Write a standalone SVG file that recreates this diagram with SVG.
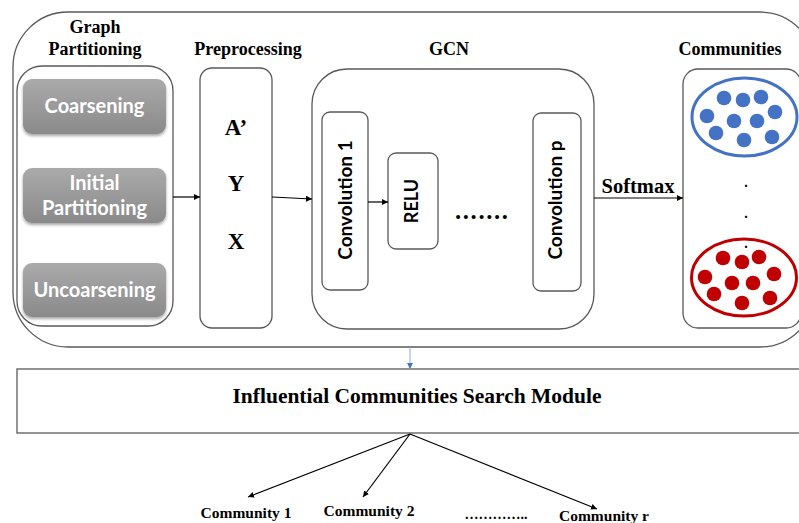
<svg xmlns="http://www.w3.org/2000/svg" width="799" height="523" viewBox="0 0 799 523">
<style>
.frame{fill:#fff;stroke:#595959;stroke-width:1.3}
.gray{fill:url(#g);filter:url(#sh)}
.gt{font-family:Lato,"Open Sans",sans-serif;font-weight:bold;font-size:20px;fill:#fff;text-anchor:middle}
.ct{font-family:Lato,"Open Sans",sans-serif;font-weight:bold;fill:#000;text-anchor:middle}
.tt{font-family:"Liberation Serif","Times New Roman",serif;font-weight:bold;font-size:18px;fill:#000;text-anchor:middle}
.big{font-family:"Liberation Serif","Times New Roman",serif;font-weight:bold;font-size:23px;fill:#000;text-anchor:middle}
.lab{font-family:"Liberation Serif","Times New Roman",serif;font-weight:bold;font-size:15.5px;fill:#000;text-anchor:middle}
.ar{fill:none;stroke:#000;stroke-width:1.2;marker-end:url(#ah)}
.bd{fill:#4472c4}
.rd{fill:#c00000}
</style>
<defs>
<linearGradient id="g" x1="0" y1="0" x2="0" y2="1">
<stop offset="0" stop-color="#aaaaaa"/>
<stop offset="0.5" stop-color="#9a9a9a"/>
<stop offset="1" stop-color="#8a8a8a"/>
</linearGradient>
<filter id="sh" x="-10%" y="-10%" width="120%" height="130%">
<feDropShadow dx="0" dy="2" stdDeviation="1.5" flood-color="#000" flood-opacity="0.35"/>
</filter>
<marker id="ah" viewBox="0 0 10 10" refX="10" refY="5" markerWidth="6" markerHeight="6" markerUnits="userSpaceOnUse" orient="auto">
<path d="M0,0 L10,5 L0,10 z" fill="#000"/>
</marker>
<marker id="ahb" viewBox="0 0 10 10" refX="10" refY="5" markerWidth="6" markerHeight="6" markerUnits="userSpaceOnUse" orient="auto">
<path d="M0,0 L10,5 L0,10 z" fill="#4472c4"/>
</marker>
</defs>
<rect width="799" height="523" fill="#fff"/>

<g id="outer">
<rect class="frame" x="13" y="12" width="802" height="335" rx="55" ry="55"/>
</g>

<g id="graph-partitioning">
<text class="tt" x="95" y="33">Graph</text>
<text class="tt" x="95" y="55">Partitioning</text>
<rect class="frame" x="17" y="66" width="156" height="260" rx="25" ry="25"/>
<g id="coarsening">
<rect class="gray" x="23" y="79" width="143" height="55" rx="9" ry="9"/>
<text class="gt" x="94.5" y="113">Coarsening</text>
</g>
<g id="initial-partitioning">
<rect class="gray" x="23" y="168" width="143" height="55" rx="9" ry="9"/>
<text class="gt" x="94.5" y="190">Initial</text>
<text class="gt" x="94.5" y="215">Partitioning</text>
</g>
<g id="uncoarsening">
<rect class="gray" x="23" y="263" width="143" height="54" rx="9" ry="9"/>
<text class="gt" x="94.5" y="297">Uncoarsening</text>
</g>
</g>

<g id="preprocessing">
<text class="tt" x="248" y="55">Preprocessing</text>
<rect class="frame" x="200" y="68" width="72" height="260" rx="12" ry="12"/>
<text class="big" x="236" y="135">A’</text>
<text class="big" x="236" y="191">Y</text>
<text class="big" x="236" y="249">X</text>
</g>

<g id="gcn">
<text class="tt" x="449" y="55">GCN</text>
<rect class="frame" x="312" y="69" width="282" height="260" rx="35" ry="35"/>
<g id="conv1">
<rect class="frame" x="322" y="112" width="46" height="178" rx="8" ry="8"/>
<text class="ct" font-size="19" transform="translate(352,200) rotate(-90)">Convolution 1</text>
</g>
<g id="relu">
<rect class="frame" x="388" y="153" width="50" height="96" rx="8" ry="8"/>
<text class="ct" font-size="18" transform="translate(418,201) rotate(-90)">RELU</text>
</g>
<text x="455" y="219" font-family="Lato,'Open Sans',sans-serif" font-weight="bold" font-size="26" textLength="53" lengthAdjust="spacing">.......</text>
<g id="convp">
<rect class="frame" x="533" y="113" width="48" height="178" rx="8" ry="8"/>
<text class="ct" font-size="19" transform="translate(562,200) rotate(-90)">Convolution p</text>
</g>
</g>

<g id="communities">
<text class="tt" x="730" y="55">Communities</text>
<rect class="frame" x="683" y="69" width="118" height="259" rx="15" ry="15"/>
<ellipse cx="744.5" cy="117" rx="52.5" ry="39" fill="none" stroke="#4472c4" stroke-width="3"/>
<circle class="bd" cx="724" cy="98" r="7.3"/>
<circle class="bd" cx="743" cy="100" r="7.3"/>
<circle class="bd" cx="761" cy="97" r="7.3"/>
<circle class="bd" cx="707" cy="116" r="7.3"/>
<circle class="bd" cx="734" cy="121" r="7.3"/>
<circle class="bd" cx="757" cy="121" r="7.3"/>
<circle class="bd" cx="775" cy="112" r="7.3"/>
<circle class="bd" cx="716" cy="133" r="7.3"/>
<circle class="bd" cx="744" cy="140" r="7.3"/>
<circle class="bd" cx="772" cy="137" r="7.3"/>
<text x="746" y="187" font-family="'Liberation Serif',serif" font-weight="bold" font-size="14" text-anchor="middle">.</text>
<text x="746" y="218" font-family="'Liberation Serif',serif" font-weight="bold" font-size="14" text-anchor="middle">.</text>
<text x="746" y="248" font-family="'Liberation Serif',serif" font-weight="bold" font-size="14" text-anchor="middle">.</text>
<ellipse cx="744" cy="277.5" rx="52.5" ry="38.5" fill="none" stroke="#c00000" stroke-width="3"/>
<circle class="rd" cx="723" cy="258" r="7.3"/>
<circle class="rd" cx="742" cy="262" r="7.3"/>
<circle class="rd" cx="759" cy="257" r="7.3"/>
<circle class="rd" cx="705" cy="277" r="7.3"/>
<circle class="rd" cx="732" cy="283" r="7.3"/>
<circle class="rd" cx="753" cy="283" r="7.3"/>
<circle class="rd" cx="774" cy="274" r="7.3"/>
<circle class="rd" cx="714" cy="294" r="7.3"/>
<circle class="rd" cx="742" cy="303" r="7.3"/>
<circle class="rd" cx="770" cy="298" r="7.3"/>
</g>

<g id="search-module">
<rect class="frame" x="17" y="369" width="790" height="64"/>
<text x="417" y="403" font-family="'Liberation Serif',serif" font-weight="bold" font-size="21" text-anchor="middle" textLength="369" lengthAdjust="spacingAndGlyphs">Influential Communities Search Module</text>
</g>

<g id="community-1"><text class="lab" x="246" y="518">Community 1</text></g>
<g id="community-2"><text class="lab" x="369" y="516">Community 2</text></g>
<g id="ellipsis"><text x="496" y="519" font-family="'Liberation Serif',serif" font-weight="bold" font-size="14" text-anchor="middle">…………..</text></g>
<g id="community-r"><text class="lab" x="604" y="521">Community r</text></g>

<g id="connectors">
<line class="ar" x1="173" y1="197" x2="200" y2="197"/>
<line class="ar" x1="272" y1="197" x2="312" y2="199"/>
<line class="ar" x1="368" y1="202" x2="388" y2="202"/>
<line class="ar" x1="594" y1="198" x2="683" y2="198"/>
<text x="638" y="193" font-family="'Liberation Serif',serif" font-weight="bold" font-size="20.5" text-anchor="middle">Softmax</text>
<line x1="410" y1="347" x2="410" y2="369" stroke="#8eaadb" stroke-width="1" marker-end="url(#ahb)"/>
<line class="ar" x1="410" y1="434" x2="248" y2="497" stroke="#333"/>
<line class="ar" x1="410" y1="434" x2="363" y2="497" stroke="#666" stroke-width="0.9"/>
<line class="ar" x1="410" y1="434" x2="597" y2="509" stroke="#666" stroke-width="0.9"/>
</g>
</svg>
